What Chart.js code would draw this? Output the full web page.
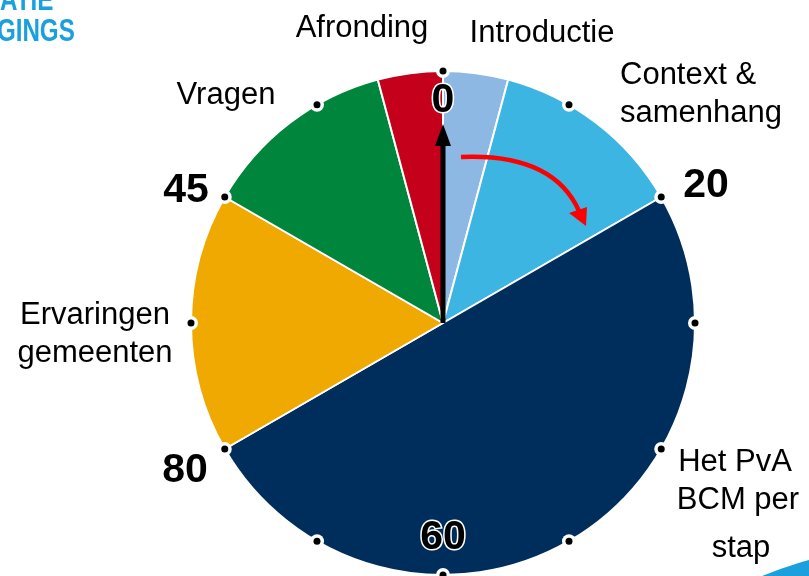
<!DOCTYPE html>
<html>
<head>
<meta charset="utf-8">
<script src="https://cdn.jsdelivr.net/npm/chart.js@4"></script>
<style>
  html, body { margin: 0; padding: 0; background: #fff; }
  #wrap { width: 809px; height: 576px; position: relative; overflow: hidden; }
</style>
</head>
<body>
<div id="wrap"><canvas id="klok" width="809" height="576"></canvas></div>
<script>
// agenda onderdelen (minuten, totaal 120)
const onderdelen = ['Introductie', 'Context & samenhang', 'Het PvA BCM per stap', 'Ervaringen gemeenten', 'Vragen', 'Afronding'];
const minuten = [5, 15, 60, 20, 15, 5];
const kleuren = ['#8DB8E3', '#3DB5E3', '#002E5C', '#EFA900', '#00853D', '#C5001A'];

// tijdmarkeringen op de klok
const tijdLabels = ['0', '20', '60', '80', '45'];

// ---- plugin: klok-decoratie en teksten ----
const klokPlugin = {
  id: 'klok',
  afterDatasetsDraw(chart) {
    const ctx = chart.ctx;
    const arc = chart.getDatasetMeta(0).data[0];
    const cx = arc.x, cy = arc.y, r = arc.outerRadius;
    const pt = (deg, rad) => {
      const a = (deg - 90) * Math.PI / 180;
      return [cx + Math.cos(a) * rad, cy + Math.sin(a) * rad];
    };

    ctx.save();

    // zwarte wijzer
    ctx.fillStyle = '#000';
    ctx.fillRect(cx - 2.5, cy - 180, 5, 180);
    ctx.beginPath();
    ctx.moveTo(cx, cy - 199);
    ctx.lineTo(cx - 8, cy - 177);
    ctx.lineTo(cx + 8, cy - 177);
    ctx.closePath();
    ctx.fill();

    // rode pijl
    ctx.strokeStyle = '#FF0000';
    ctx.lineWidth = 4.5;
    ctx.beginPath();
    ctx.moveTo(cx + 18, cy - 166);
    ctx.quadraticCurveTo(cx + 110, cy - 170, cx + 136, cy - 112);
    ctx.stroke();
    ctx.fillStyle = '#FF0000';
    ctx.beginPath();
    ctx.moveTo(cx + 143, cy - 97);
    ctx.lineTo(cx + 126, cy - 110);
    ctx.lineTo(cx + 144, cy - 116);
    ctx.closePath();
    ctx.fill();

    // stippen rond de klok
    for (let i = 0; i < 12; i++) {
      const [x, y] = pt(i * 30, r);
      ctx.fillStyle = '#fff';
      ctx.beginPath(); ctx.arc(x, y, 7, 0, Math.PI * 2); ctx.fill();
      ctx.fillStyle = '#000';
      ctx.beginPath(); ctx.arc(x, y, 3.5, 0, Math.PI * 2); ctx.fill();
    }

    // tijdmarkeringen
    ctx.font = 'bold 41px "Liberation Sans", Arial, sans-serif';
    ctx.textAlign = 'center';
    ctx.textBaseline = 'middle';
    const tijdPos = { '0': [cx, cy - 222], '20': [cx + 263, cy - 137], '60': [cx, cy + 215], '80': [cx - 258, cy + 148], '45': [cx - 257, cy - 132] };
    tijdLabels.forEach(t => {
      const [x, y] = tijdPos[t];
      if (t === '0' || t === '60') {
        ctx.lineWidth = 3;
        ctx.strokeStyle = '#fff';
        ctx.strokeText(t, x, y);
      }
      ctx.fillStyle = '#000';
      ctx.fillText(t, x, y);
    });

    // onderdeel-labels
    ctx.font = '31px "Liberation Sans", Arial, sans-serif';
    ctx.fillStyle = '#000';
    ctx.textAlign = 'center';
    ctx.fillText('Afronding', 362, 28);
    ctx.fillText('Introductie', 542, 33);
    ctx.fillText('Vragen', 226, 95);
    ctx.fillText('Ervaringen', 95, 315);
    ctx.fillText('gemeenten', 95, 353);
    ctx.fillText('Het PvA', 735, 462);
    ctx.fillText('BCM per', 738, 500);
    ctx.fillText('stap', 741, 548);
    ctx.textAlign = 'left';
    ctx.fillText('Context &', 620, 75);
    ctx.fillText('samenhang', 620, 113);

    // logo-resten linksboven (smal gezet)
    ctx.save();
    ctx.fillStyle = '#1AA0DC';
    ctx.font = 'bold 31px "Liberation Sans", Arial, sans-serif';
    ctx.textAlign = 'left';
    ctx.textBaseline = 'alphabetic';
    ctx.scale(0.78, 1);
    ctx.fillText('ATIE', 0, 10);
    ctx.fillText('GINGS', -4, 41);
    ctx.restore();

    // blauwe boog rechtsonder
    ctx.fillStyle = '#1AA0DC';
    ctx.beginPath();
    ctx.arc(900, 900, 352, 0, Math.PI * 2);
    ctx.fill();

    ctx.restore();
  }
};

new Chart(document.getElementById('klok'), {
  type: 'pie',
  data: {
    labels: onderdelen,
    datasets: [{
      data: minuten,
      backgroundColor: kleuren,
      borderColor: '#fff',
      borderWidth: 2
    }]
  },
  options: {
    responsive: false,
    animation: false,
    layout: { padding: { left: 190, right: 113, top: 70, bottom: 0 } },
    plugins: { legend: { display: false }, tooltip: { enabled: false } }
  },
  plugins: [klokPlugin]
});
</script>
</body>
</html>
